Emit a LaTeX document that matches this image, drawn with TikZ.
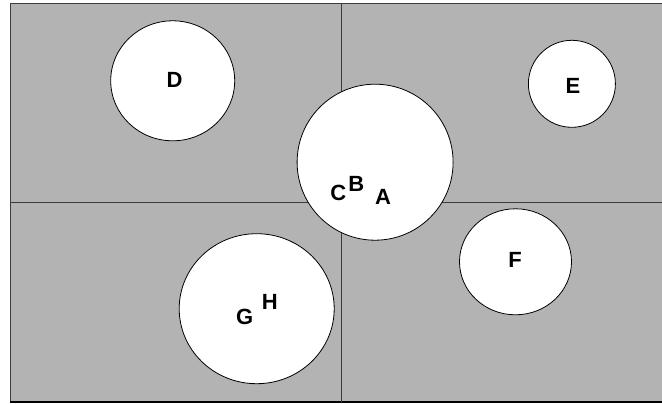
\documentclass[tikz,border=0pt]{standalone}
\usepackage{fontspec}
\setmainfont{Liberation Sans}
\usetikzlibrary{shapes.geometric}
\definecolor{panel}{RGB}{179,179,179}
\definecolor{rule}{RGB}{60,60,60}
\tikzset{
  region/.style={ellipse, draw=black, line width=0.8pt, fill=white, inner sep=0pt},
  lbl/.style={inner sep=0pt, font=\bfseries\fontsize{22}{22}\selectfont},
}
\begin{document}
\begin{tikzpicture}[x=1pt,y=-1pt]
\useasboundingbox (0,0) rectangle (662,404);
% grey field and its dividing lines
\fill[panel] (10,4) rectangle (662,401.5);
\draw[rule, line width=1pt] (662,4) -- (10,4) -- (10,401.5);
\draw[black, line width=2pt] (10,401.5) -- (662,401.5);
\coordinate (vt) at (341,4);
\coordinate (vb) at (341,401.5);
\coordinate (hl) at (10,202.5);
\coordinate (hr) at (662,202.5);
\draw[rule, line width=1pt] (vt) -- (vb);
\draw[rule, line width=1pt] (hl) -- (hr);
% white regions
\node[region, minimum width=124pt, minimum height=120pt] (d) at (172.7,80.8) {};
\node[region, minimum width=87pt, minimum height=87pt] (e) at (571.9,83.8) {};
\node[region, minimum width=156pt, minimum height=156pt] (abc) at (375.1,162.2) {};
\node[region, minimum width=112pt, minimum height=106pt] (f) at (515.5,261.8) {};
\node[region, minimum width=155pt, minimum height=150pt] (gh) at (256.7,308.7) {};
% labels
\node[lbl] (ld) at (174.5,79.5) {D};
\node[lbl] (le) at (573,86) {E};
\node[lbl] (lf) at (515,260) {F};
\node[lbl] (lc) at (338.3,192.5) {C};
\node[lbl] (lb) at (356.3,184.3) {B};
\node[lbl] (la) at (383,197) {A};
\node[lbl] (lg) at (244.7,317) {G};
\node[lbl] (lh) at (269.7,301.7) {H};
\end{tikzpicture}
\end{document}
